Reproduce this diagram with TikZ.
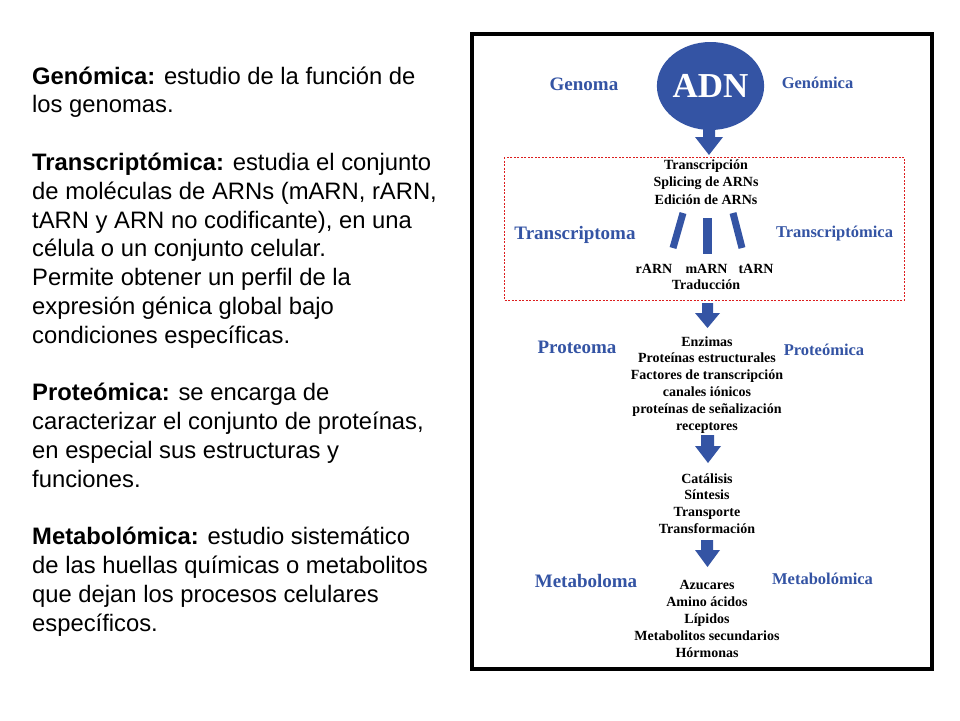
\documentclass[tikz,border=0pt]{standalone}
\usepackage{fontspec}
\setmainfont{Liberation Serif}
\newfontfamily\arialfont{Liberation Sans}
\usetikzlibrary{shapes.geometric}
\definecolor{dblue}{RGB}{52,84,164}
\definecolor{dred}{RGB}{220,30,30}
\begin{document}
\begin{tikzpicture}[x=1pt,y=-1pt,
  lefttext/.style={anchor=base west,inner sep=0pt,font=\arialfont\fontsize{23.8}{29}\selectfont},
  item/.style={anchor=base,inner sep=0pt,font=\bfseries\fontsize{14}{17}\selectfont},
  biglabel/.style={anchor=base,inner sep=0pt,text=dblue,font=\bfseries\fontsize{19}{22}\selectfont},
  sidelabel/.style={anchor=base,inner sep=0pt,text=dblue,font=\bfseries\fontsize{16.5}{20}\selectfont},
  fatarrow/.style={fill=dblue,draw=none},
  barstyle/.style={draw=dblue,line width=7pt}]
\useasboundingbox (0,0) rectangle (960,720);
\fill[white] (0,0) rectangle (960,720);

% left text
\foreach \n/\txt in {
  0/{\textbf{Genómica:} estudio de la función de},
  1/{los genomas.},
  3/{\textbf{Transcriptómica:} estudia el conjunto},
  4/{de moléculas de ARNs (mARN, rARN,},
  5/{tARN y ARN no codificante), en una},
  6/{célula o un conjunto celular.},
  7/{Permite obtener un perfil de la},
  8/{expresión génica global bajo},
  9/{condiciones específicas.},
  11/{\textbf{Proteómica:} se encarga de},
  12/{caracterizar el conjunto de proteínas,},
  13/{en especial sus estructuras y},
  14/{funciones.},
  16/{\textbf{Metabolómica:} estudio sistemático},
  17/{de las huellas químicas o metabolitos},
  18/{que dejan los procesos celulares},
  19/{específicos.}}
  \node[lefttext] (line\n) at (32,84+28.8*\n) {\txt};

% frame
\draw[line width=4pt] (472,33.5) rectangle (932,669);

% red dashed box
\draw[dred,line width=0.8pt,dash pattern=on 2pt off 1.5pt] (504,157) rectangle (904,300);

% ADN ellipse
\node[ellipse,fill=dblue,minimum width=105pt,minimum height=88pt,inner sep=0pt,
  text=white,font=\bfseries\fontsize{35}{40}\selectfont] (adn) at (710.5,86) {ADN};

% labels
\node[biglabel] (genoma) at (584,90) {Genoma};
\node[sidelabel] (genomica) at (817.5,88) {Genómica};
\node[biglabel] (transcriptoma) at (575,239) {Transcriptoma};
\node[sidelabel] (transcriptomica) at (834.5,237) {Transcriptómica};
\node[biglabel] (proteoma) at (577,353) {Proteoma};
\node[sidelabel] (proteomica) at (824,355) {Proteómica};
\node[biglabel] (metaboloma) at (586,587) {Metaboloma};
\node[sidelabel] (metabolomica) at (822.5,584) {Metabolómica};

% item lists
\node[item] (t1) at (706,169) {Transcripción};
\node[item] (t2) at (706,186.5) {Splicing de ARNs};
\node[item] (t3) at (706,204) {Edición de ARNs};
\node[item] (rarn) at (654,273) {rARN};
\node[item] (marn) at (706.5,273) {mARN};
\node[item] (tarn) at (756,273) {tARN};
\node[item] (trad) at (706,289.5) {Traducción};

\foreach \n/\txt in {0/Enzimas,1/Proteínas estructurales,2/Factores de transcripción,
  3/canales iónicos,4/proteínas de señalización,5/receptores}
  \node[item] (p\n) at (707,346+16.8*\n) {\txt};

\foreach \n/\txt in {0/Catálisis,1/Síntesis,2/Transporte,3/Transformación}
  \node[item] (f\n) at (707,483+16.8*\n) {\txt};

\foreach \n/\txt in {0/Azucares,1/Amino ácidos,2/Lípidos,3/Metabolitos secundarios,4/Hórmonas}
  \node[item] (m\n) at (707,589+17*\n) {\txt};

% bars
\draw[barstyle] (683,213) -- (673,248);
\draw[barstyle,line width=9pt] (707.5,218) -- (707.5,254);
\draw[barstyle] (733,213) -- (742,248);

% block arrows
\fill[fatarrow] (703,124) -- (715,124) -- (715,137) -- (723,137) -- (709,155)
  -- (695,137) -- (703,137) -- cycle;
\fill[fatarrow] (702,303) -- (713,303) -- (713,313) -- (720,313) -- (707.5,328)
  -- (695,313) -- (702,313) -- cycle;
\fill[fatarrow] (701,435) -- (714,435) -- (714,446) -- (721,446) -- (708,463)
  -- (695,446) -- (701,446) -- cycle;
\fill[fatarrow] (701,540) -- (713,540) -- (713,550) -- (720,550) -- (707.5,567)
  -- (695,550) -- (701,550) -- cycle;
\end{tikzpicture}
\end{document}
